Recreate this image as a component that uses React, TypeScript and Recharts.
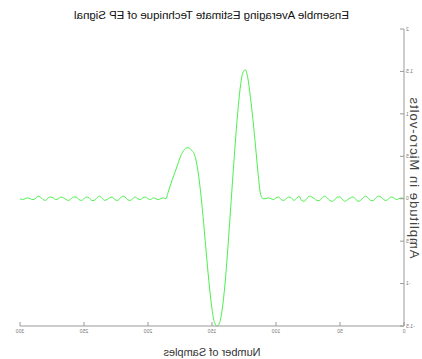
import { CartesianGrid, Label, Line, LineChart, XAxis, YAxis } from 'recharts'

// samples are every 2nd point, 0..300
const SAMPLE_STEP = 2

// averaged EP estimate (micro-volts)
const amplitude = [
  0.0, 0.01, 0.0, -0.01, 0.01, 0.02, 0.0, -0.02, -0.01, 0.02, 0.03, 0.01, -0.02, -0.02, 0.01,
  0.03, 0.01, -0.02, -0.03, 0.0, 0.02, 0.01, -0.01, -0.03, -0.01, 0.02, 0.02, -0.01, -0.03,
  -0.02, 0.01, 0.03, 0.01, -0.02, -0.02, 0.0, 0.02, 0.03, 0.0, -0.03, -0.02, 0.03, 0.0, -0.02,
  0.01, 0.02, 0.0, -0.02, -0.01, 0.02, 0.01, -0.01, 0.0, 0.01, 0.0, 0.0,
  // 112 .. 186 : the evoked response
  0.05, 0.3, 0.62, 0.93, 1.2, 1.42, 1.52, 1.48, 1.3, 1.0, 0.62, 0.2, -0.24, -0.66, -1.03, -1.3,
  -1.46, -1.5, -1.46, -1.3, -1.04, -0.72, -0.38, -0.05, 0.22, 0.42, 0.53, 0.57, 0.6, 0.6, 0.57,
  0.52, 0.44, 0.35, 0.27, 0.18, 0.09, 0.0,
  // 188 .. 300
  0.01, 0.0, -0.01, 0.0, 0.01, -0.01, 0.0, 0.02, 0.01, -0.01, 0.0, 0.02, 0.0, -0.02, -0.01,
  0.02, 0.03, 0.0, -0.02, -0.01, 0.02, 0.01, -0.01, -0.02, 0.01, 0.03, 0.01, -0.02, -0.02, 0.01,
  0.02, 0.0, -0.02, -0.01, 0.02, 0.02, 0.0, -0.02, -0.01, 0.01, 0.02, 0.0, -0.01, 0.01, 0.02,
  0.01, -0.02, -0.01, 0.02, 0.03, 0.0, -0.01, 0.0, 0.01, 0.0, -0.01, 0.0,
]

const xTicks = [0, 50, 100, 150, 200, 250, 300]
const yTicks = [-1.5, -1, -0.5, 0, 0.5, 1, 1.5, 2]

const title = 'Ensemble Averaging Estimate Technique of EP Signal'
const xLabel = 'Number of Samples'
const yLabel = 'Amplitude in Micro-volts'

const data = amplitude.map((v, i) => ({ sample: i * SAMPLE_STEP, value: v }))

const axisColor = '#9a9a9a'
const font = 'Liberation Sans, Arial, sans-serif'

export default function App() {
  return (
    // the reference picture is mirrored left-to-right, so the whole figure is flipped
    <div
      style={{
        position: 'absolute',
        left: 0,
        top: 0,
        width: 422,
        height: 359,
        background: '#fff',
        transform: 'scaleX(-1)',
        fontFamily: font,
      }}
    >
      <div
        style={{
          position: 'absolute',
          top: 8,
          left: 0,
          width: 421,
          textAlign: 'center',
          fontSize: 11.5,
          color: '#111',
          lineHeight: '14px',
        }}
      >
        {title}
      </div>
      <LineChart
        width={422}
        height={359}
        data={data}
        margin={{ top: 29, right: 20, bottom: 0, left: 0 }}
      >
        <CartesianGrid stroke='none' />
        <XAxis
          xAxisId='bottom'
          dataKey='sample'
          type='number'
          domain={[0, 300]}
          ticks={xTicks}
          stroke={axisColor}
          tickSize={-4}
          tickMargin={7}
          height={33}
          tick={{ fontSize: 5, fill: '#777' }}
        >
          <Label
            value={xLabel}
            position='insideBottom'
            offset={3}
            style={{ fontSize: 11, fill: '#333' }}
          />
        </XAxis>
        <XAxis
          xAxisId='top'
          orientation='top'
          dataKey='sample'
          type='number'
          domain={[0, 300]}
          ticks={xTicks}
          stroke={axisColor}
          tickSize={-4}
          height={0}
          tick={false}
        />
        <YAxis
          yAxisId='left'
          domain={[-1.5, 2]}
          ticks={yTicks}
          stroke={axisColor}
          tickSize={-4}
          tickMargin={6}
          width={18}
          tick={{ fontSize: 5, fill: '#777' }}
        >
          <Label
            value={yLabel}
            angle={-90}
            position='insideLeft'
            offset={7}
            style={{ fontSize: 13, fill: '#444', textAnchor: 'middle', letterSpacing: 1 }}
          />
        </YAxis>
        <YAxis
          yAxisId='right'
          orientation='right'
          domain={[-1.5, 2]}
          ticks={yTicks}
          stroke={axisColor}
          tickSize={-4}
          width={0}
          tick={false}
        />
        <Line
          xAxisId='bottom'
          yAxisId='left'
          dataKey='value'
          type='monotone'
          stroke='#4cf04c'
          strokeWidth={1}
          dot={false}
          isAnimationActive={false}
        />
      </LineChart>
    </div>
  )
}
